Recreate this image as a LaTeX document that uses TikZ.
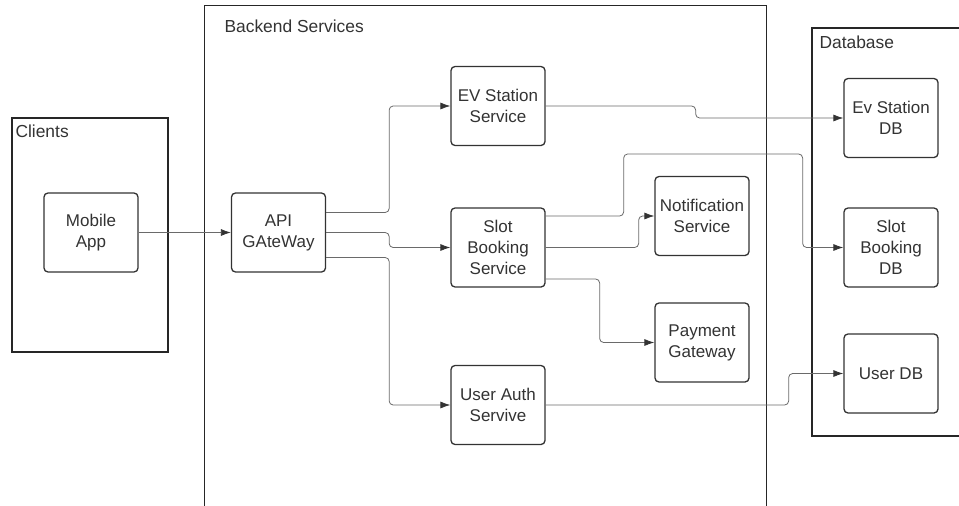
\documentclass[tikz,border=0pt]{standalone}
\usepackage{fontspec}
\setmainfont{Liberation Sans}
\usetikzlibrary{arrows.meta}
\definecolor{inkgray}{HTML}{333333}
\definecolor{wiregray}{HTML}{6A6A6A}

\begin{document}
\begin{tikzpicture}[x=1pt, y=-1pt,
    svc/.style={draw=inkgray, line width=1.3pt, rounded corners=4pt, fill=white,
                minimum width=94pt, minimum height=79pt, align=center,
                text=inkgray, font=\fontsize{17}{21}\selectfont},
    group/.style={draw=black!85, line width=1pt},
    grouplabel/.style={anchor=west, text=inkgray, font=\fontsize{17.4}{20}\selectfont},
    link/.style={draw=wiregray, line width=0.8pt, rounded corners=4pt,
                 -{Latex[length=10pt, width=7pt, color=inkgray]}}]
  \useasboundingbox (0,0) rectangle (959,506);

  % containers
  \draw[group, line width=1.4pt] (12,118) rectangle (168,352);
  \node[grouplabel] (clientslbl) at (12,131) {Clients};
  \draw[group] (204,506) -- (204,5) -- (766,5) -- (766,506);
  \node[grouplabel] (backendlbl) at (221,26) {Backend Services};
  \draw[group, line width=1.3pt] (959,436) -- (812,436) -- (812,28) -- (959,28);
  \node[grouplabel] (dblbl) at (816,42) {Database};

  % nodes
  \node[svc] (mobile) at (91,232.5) {Mobile\\App};
  \node[svc] (api) at (278.5,232.5) {API\\GAteWay};
  \node[svc] (evsvc) at (498,106) {EV Station\\Service};
  \node[svc] (slotsvc) at (498,247.5) {Slot\\Booking\\Service};
  \node[svc] (authsvc) at (498,405) {User Auth\\Servive};
  \node[svc] (notify) at (702,216) {Notification\\Service};
  \node[svc] (payment) at (702,342.5) {Payment\\Gateway};
  \node[svc] (evdb) at (891,118) {Ev Station\\DB};
  \node[svc] (slotdb) at (891,247.5) {Slot\\Booking\\DB};
  \node[svc] (userdb) at (891,373.5) {User DB};

  % connectors
  \draw[link] (mobile) -- (api);
  \draw[link] ([yshift=20pt]api.east) -- ++(63,0) |- (evsvc.west);
  \draw[link] (api.east) -- ++(63,0) |- (slotsvc.west);
  \draw[link] ([yshift=-25pt]api.east) -- ++(63,0) |- (authsvc.west);
  \draw[link] (evsvc.east) -- ++(150,0) |- (evdb.west);
  \draw[link] ([yshift=31.5pt]slotsvc.east) -- ++(78,0) -- ++(0,-62) -- ++(179,0) |- (slotdb.west);
  \draw[link] (slotsvc.east) -- ++(93,0) |- (notify.west);
  \draw[link] ([yshift=-31.5pt]slotsvc.east) -- ++(54,0) |- (payment.west);
  \draw[link] (authsvc.east) -- ++(243,0) |- (userdb.west);
\end{tikzpicture}
\end{document}
